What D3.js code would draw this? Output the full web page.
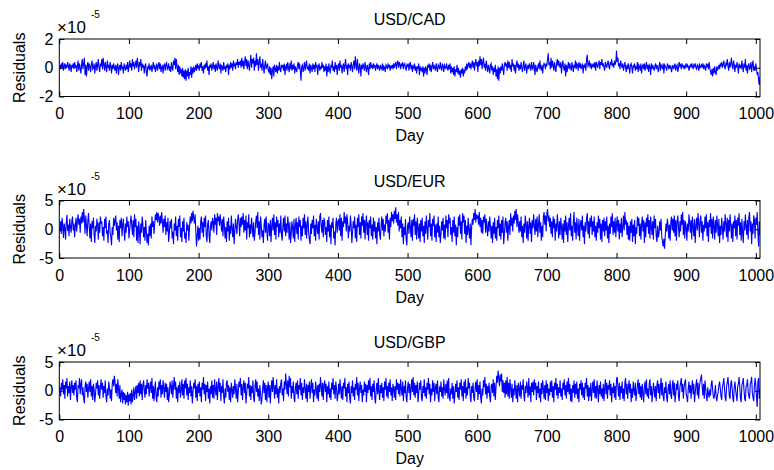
<!DOCTYPE html>
<html>
<head>
<meta charset="utf-8">
<script src="https://cdn.jsdelivr.net/npm/d3@7"></script>
<style>
  body { margin: 0; background: #fff; }
  text { font-family: "Liberation Sans", Arial, Helvetica, sans-serif; fill: #000; }
</style>
</head>
<body>
<script>
// residuals, in units of 1e-6, one value per day
var cadResid = [
2,-1,3,0,4,-2,1,3,-1,2,0,4,1,-2,3,1,-3,2,0,3,
-1,4,0,2,-3,1,5,-2,3,0,-4,2,6,-1,3,7,-5,2,-6,1,
4,-2,3,1,-3,2,5,-1,0,3,-4,1,4,-2,2,6,0,-3,3,1,
6,-1,7,2,-2,4,1,-3,5,0,2,-2,4,1,-4,2,-1,3,0,-2,
2,-4,1,3,-5,0,2,-2,4,-1,1,-4,3,0,-2,2,-1,4,-3,1,
5,0,3,-2,6,1,4,-1,2,5,0,7,2,-3,4,1,6,-2,3,0,
2,-4,1,3,-3,-6,1,-1,3,-2,0,2,-3,1,4,-1,2,-3,0,3,
-2,1,4,-1,3,-3,0,2,-4,1,3,-2,2,4,-1,0,3,-2,1,-3,
4,0,-2,5,2,7,-1,6,1,-3,2,-5,1,-4,-1,-6,0,-7,-2,-8,
-1,-9,-2,-6,0,-8,-3,-5,1,-7,0,-4,1,-3,-1,2,-2,3,0,1,
-2,3,0,4,-2,1,-4,2,-1,3,0,5,-2,1,-5,2,0,3,-2,1,
4,-1,2,-3,3,0,-2,5,1,-1,3,-4,2,0,-2,4,-1,1,-3,2,
0,3,-5,2,-1,4,0,3,-2,5,1,3,-1,4,2,6,0,4,2,5,
0,7,1,5,-1,4,8,1,6,-1,5,2,-2,4,9,0,6,3,7,-2,
5,1,10,2,6,-2,4,8,0,3,-2,6,1,-4,2,5,-1,1,3,-2,
-3,1,-5,0,-8,-2,1,-6,2,-1,-3,2,-4,1,-2,4,-1,-3,2,0,
2,-2,3,-5,1,2,-2,4,0,-3,3,-1,5,-2,2,-1,3,-4,1,-1,
-3,2,4,-1,3,-2,-9,1,2,-3,0,4,-2,2,5,-1,1,-2,3,-4,
2,0,-3,3,-1,2,-3,4,0,2,-5,1,3,-2,1,-1,4,0,2,-3,
1,-2,3,-6,1,-3,3,-1,-4,2,0,5,-2,1,-3,4,-1,2,-5,1,
3,-2,5,0,2,-4,1,3,-3,2,6,-1,2,-5,3,0,2,-2,4,1,
-3,2,5,-1,8,2,-2,6,0,-4,3,1,-6,2,-1,3,1,-2,4,0,
-3,2,0,-5,3,-1,4,0,2,-1,3,0,2,-2,1,3,-1,2,0,-2,
2,0,-1,3,-2,1,0,-3,2,1,-1,3,0,2,-2,1,0,2,-1,3,
0,2,4,-1,3,5,0,4,2,-1,3,1,4,-1,2,3,0,-2,2,1,
3,-2,2,4,-1,2,-3,1,0,3,-2,1,-4,1,-1,3,-5,1,-2,0,
-3,1,-6,0,-4,1,-1,-5,2,0,3,-2,2,-3,1,4,-1,2,0,-2,
3,0,-3,2,1,-1,4,0,-2,3,1,-3,2,1,-1,3,0,-2,2,-1,
3,-4,1,-3,0,-5,1,-6,-1,-3,2,-4,0,-5,-2,-7,-1,-4,0,-6,
-2,-3,1,-2,3,-1,2,4,0,3,-1,2,5,0,4,-2,3,6,1,4,
-3,5,1,8,2,6,-1,4,7,0,3,-2,5,1,-3,2,0,-4,2,3,
-2,1,-5,0,-3,2,-6,-1,-8,1,-9,0,-4,1,-2,3,-1,-5,2,4,
1,3,-2,5,0,4,-1,2,-3,6,1,3,-2,2,-4,2,5,0,3,-2,
2,-1,4,0,-3,2,5,-2,1,3,-4,0,2,-1,3,1,-2,4,0,-1,
4,1,-5,2,-1,-3,1,3,-1,5,0,-2,2,-4,1,3,2,-1,3,1,
6,10,2,4,-1,7,0,5,2,-2,4,0,-3,3,6,1,5,2,0,4,
-4,2,5,0,-2,3,-6,2,-3,1,4,-1,3,0,-2,4,1,-3,2,0,
5,-1,3,2,-2,4,0,3,-1,1,3,-4,2,0,3,-2,6,9,1,2,
5,0,3,-1,2,1,3,0,4,-2,4,2,0,3,5,-1,4,2,6,1,
3,0,-2,4,2,0,3,5,1,-1,4,2,6,1,3,0,5,2,4,12,
4,7,1,3,-1,5,2,0,3,-2,1,4,0,-3,2,-1,3,0,-4,2,
3,0,-4,2,0,3,-2,1,-1,4,-3,2,1,-2,3,-4,1,2,-1,3,
-2,1,4,-1,2,-3,2,1,-5,3,-1,2,0,-2,1,3,-1,2,0,-3,
1,4,-2,2,1,-1,3,-4,2,1,0,-2,3,1,-1,2,0,1,-3,0,
2,-1,1,3,-2,1,2,-3,0,4,1,2,-1,3,1,0,2,-1,1,3,
0,2,1,-2,1,2,0,3,1,-1,2,1,3,0,-1,2,1,-2,3,0,
1,2,0,3,-1,2,0,-2,3,1,2,-1,4,0,-3,-5,-1,-6,0,-4,
1,-3,-5,1,-2,0,2,-1,3,1,4,0,2,5,1,-1,3,2,6,1,
-2,4,0,3,7,1,-1,5,2,-3,2,0,4,1,-4,3,0,2,-1,5,
1,-3,3,0,6,-2,2,-4,1,3,-1,0,4,-3,2,5,-2,1,-2,3,
-1,-5,-3,-9,-12,-6
];

var eurResid = [
-4,14,-8,20,6,-15,10,2,-18,12,25,-3,8,-12,18,4,-6,15,22,-2,
10,-14,5,20,-4,14,26,8,18,-6,22,10,30,12,35,18,-8,24,6,-12,
16,28,4,-16,10,-22,14,2,20,-10,-24,6,-4,18,8,-18,12,-6,22,10,
14,-12,4,-20,18,2,22,-8,-2,-24,10,16,-6,-14,-28,4,-10,20,6,14,
24,-2,12,-18,6,-22,16,2,20,-12,8,18,-4,-20,10,-6,22,4,14,-16,
-2,12,24,6,-10,16,-14,26,4,18,-20,6,-24,14,-2,-26,10,-6,22,8,
-14,4,-20,16,-4,-24,-8,-28,6,-12,10,-16,22,4,14,-8,10,26,16,30,
12,28,20,6,24,10,30,14,-6,18,4,24,-10,12,-4,20,-22,-6,14,2,
18,-16,-4,-26,10,-2,22,-12,6,-20,18,4,24,-14,2,-22,14,-4,20,-16,
-6,-24,12,-2,8,-20,4,22,10,28,14,32,20,10,26,-4,-30,-12,6,-20,
2,-18,14,22,-6,12,-14,20,4,24,-12,-22,8,16,-10,-24,4,14,-2,20,
12,-6,26,8,20,-10,28,14,22,6,26,12,-4,18,-12,22,6,-16,4,-22,
14,-4,20,-20,6,-8,24,2,-14,10,-26,-4,18,4,-8,16,26,10,-12,20,
4,22,8,28,-6,16,-2,24,-18,12,2,26,-14,8,-8,20,4,-14,12,-20,
-6,14,24,2,30,-10,14,-18,22,6,-14,-2,-24,8,18,-6,22,-4,-20,10,
8,-12,16,-22,6,20,-2,26,-10,12,-18,22,4,16,-14,10,-6,24,-10,-20,
6,20,-4,24,-12,10,-6,22,8,-18,12,-24,-8,14,2,-16,18,-22,6,20,
-8,12,-18,22,4,16,-20,6,-12,20,2,26,-10,14,-16,8,22,-6,-18,-26,
10,-8,16,2,24,-12,8,-20,18,4,-8,14,-18,22,28,6,-6,16,-14,20,
14,-10,4,-22,16,-4,22,-14,8,-26,12,2,20,-16,-4,-28,10,20,-6,14,
16,-2,26,-12,20,-20,14,4,30,10,22,-4,26,12,-16,6,-4,24,8,-24,
-6,14,2,22,-16,8,-22,20,4,26,-10,12,-16,22,6,28,-6,16,-18,12,
24,-10,12,-20,16,2,22,-12,8,-18,20,-4,14,-16,4,-26,12,-4,20,-10,
-18,6,22,-2,18,-12,8,-4,24,10,28,-6,16,-18,20,4,30,14,26,10,
32,18,38,12,26,6,30,-4,16,2,22,-14,10,-26,4,-10,18,-18,-28,6,
12,-8,22,4,-14,16,-20,18,6,26,-10,14,-18,20,2,-16,10,-22,16,-4,
20,-12,6,-24,14,-8,24,2,-18,16,4,28,-12,10,-20,18,6,24,-14,8,
-22,10,-6,22,-14,6,-24,-8,14,-2,20,-16,8,-18,24,2,16,-14,26,10,
20,-10,4,-22,16,-6,22,-12,8,-28,4,-14,22,6,26,-8,14,-18,28,12,
24,-8,16,-24,6,-10,20,-2,-16,10,-28,4,18,8,28,16,35,12,26,18,
24,8,30,4,20,-6,16,-8,22,12,26,-6,18,2,-12,14,-4,22,6,-16,
6,-24,12,-8,20,-16,4,-20,16,2,24,-12,10,-18,16,-6,22,-26,-8,12,
20,-6,14,-20,4,16,-10,28,6,20,-4,24,10,32,16,35,4,26,10,-6,
14,-4,22,-14,6,-24,10,-6,24,8,-16,14,-20,6,20,-8,12,-22,16,2,
26,6,-10,18,-4,22,-14,8,26,-6,12,-20,6,-14,22,30,8,24,-4,28,
35,14,24,4,20,-8,14,-14,22,2,18,-20,10,-4,26,8,-16,14,-10,20,
4,-18,10,-24,16,-4,24,-10,12,-22,6,20,-2,28,-12,6,-20,14,30,-6,
12,-18,20,4,-12,18,-20,8,16,-2,24,-14,6,-26,12,-4,20,28,-8,14,
-16,20,4,24,-10,14,-4,22,-14,6,-20,12,-6,24,2,18,-18,10,-22,16,
-4,20,-12,14,-2,22,-16,6,-24,10,-8,22,4,28,-10,14,-6,20,-14,8,
22,-4,16,-18,10,-6,20,-14,4,24,-2,30,8,16,-10,12,-18,6,-20,14,
-6,18,-22,8,-12,16,-26,4,-8,22,6,20,-12,10,-18,8,22,-4,16,-24,
12,-14,20,4,26,-8,16,-16,22,6,-10,14,-18,24,2,18,-12,-22,6,-14,
-8,14,-2,18,-14,-22,-30,-16,-34,-12,10,-4,18,6,-16,8,-20,14,22,-2,
18,-6,24,-12,16,-20,12,24,2,-14,14,-4,26,8,30,-10,16,-16,14,4,
-20,10,-4,26,12,-6,16,-18,22,4,-12,18,-24,6,20,-2,28,10,-14,16,
24,-6,14,-20,8,-4,22,2,26,-12,12,-22,16,4,28,-8,18,-16,22,6,
-18,16,-6,24,8,-12,18,-24,6,-10,20,2,-18,14,-4,26,10,-14,20,-22,
16,-4,26,8,-16,10,-22,14,2,24,-12,16,-18,20,6,28,-10,12,-20,18,
-6,-24,14,-2,26,6,-10,16,-18,22,30,-4,14,-26,10,-8,24,16,-16,20,
8,30,-6,-30,14,-10
];

var gbpResid = [
6,-10,14,2,20,-6,10,-14,16,4,22,-10,8,-4,16,-16,6,18,-4,10,
-8,14,2,18,-12,-20,10,4,22,-6,12,20,-8,6,-14,-22,8,16,-2,12,
-12,4,16,-2,20,-10,8,-16,12,2,-20,-6,14,4,18,-8,10,-14,6,20,
2,14,-12,8,-4,18,-10,-20,4,-8,16,6,-14,2,-18,12,20,8,26,16,
-4,12,-10,20,4,-14,10,-20,-6,2,-22,-2,-16,-4,-24,-8,-20,-2,-26,-6,
-18,-4,-24,2,-20,-8,6,-16,-2,8,-14,10,-4,14,-10,18,-6,12,-16,8,
18,2,-12,10,-6,20,4,14,-10,6,16,-4,22,-14,8,-18,4,16,-12,-20,
6,-10,16,2,20,-12,10,-6,18,4,-12,14,-2,12,-16,6,-20,-6,16,8,
-6,18,-12,8,24,2,16,-14,6,-20,10,-4,16,-12,2,20,-8,12,-14,18,
4,22,-8,12,-16,6,-4,18,-10,8,-22,-2,14,4,20,-12,8,-18,12,-4,
16,-10,6,-20,14,2,24,-6,12,-18,10,-2,16,-14,4,-22,8,-6,18,-12,
10,-14,20,2,-8,16,-16,6,22,-2,14,-18,8,-4,20,-10,-22,4,-12,14,
18,-2,10,-16,6,-20,14,2,-12,8,-6,20,4,-14,12,-20,-2,16,6,22,
-8,12,-16,6,18,-4,14,-22,-6,12,4,24,-10,10,-16,8,-4,18,-12,-20,
8,20,-2,16,-10,4,-18,10,-6,-24,-12,4,18,-4,14,-16,10,-20,6,16,
-12,10,-22,4,18,-2,24,6,-14,10,-6,20,-12,4,-22,8,-4,14,20,-8,
4,-18,16,2,30,12,-6,18,-10,26,6,22,-14,8,-4,16,-12,-20,6,14,
-6,18,-14,10,2,22,-8,14,-16,6,-4,20,4,-14,12,-20,10,-2,16,-14,
6,20,-4,14,-20,2,-8,16,4,-14,10,-18,12,-2,24,8,-10,14,-16,10,
18,-2,12,-20,8,-6,16,-12,4,-16,14,2,22,-6,10,-14,16,4,-18,-8,
12,-6,20,2,-14,8,-16,14,4,22,-10,6,-20,12,-4,16,-14,-22,8,-4,
18,-10,6,-16,12,2,24,-8,14,-18,4,16,-4,10,-20,2,-8,16,-2,12,
-20,10,-4,18,2,22,-10,8,-16,12,-2,18,-14,-22,4,14,-6,22,-2,-16,
10,-4,14,-12,6,-18,16,2,22,-10,8,-14,14,-2,20,-8,6,-18,12,4,
-12,8,-16,20,2,14,-6,12,-10,20,4,-8,16,-18,8,-4,18,-12,-20,6,
16,-4,12,-16,4,20,-2,24,-8,14,-12,10,-4,16,-20,-6,14,2,18,-12,
-18,8,-4,20,-10,6,-14,14,2,22,-6,12,-20,4,-8,18,-2,14,-18,6,
12,-6,18,-12,-20,8,-2,16,-10,6,-14,20,4,-8,12,-4,18,-14,22,-10,
-18,4,-6,14,-14,8,-22,-6,12,-2,18,-12,6,-16,14,2,20,-10,8,-18,
16,-4,20,-14,6,-8,22,4,14,-10,-20,8,-4,14,-12,-18,6,16,-2,20,
-16,10,-6,16,-12,-22,4,-8,18,6,24,-6,12,-14,8,-4,14,-10,-20,8,
12,-4,20,-10,14,-16,6,26,14,35,22,8,28,16,30,-2,18,-4,14,-12,
18,-6,24,-10,14,-14,20,4,-12,12,-20,4,-8,18,2,-14,10,-20,14,4,
-10,16,-14,10,2,20,-8,-18,8,-4,16,6,-12,22,-8,8,-20,14,-2,16,
-8,20,2,14,-16,8,-4,16,-12,4,-20,14,-6,18,4,-14,10,-16,18,-4,
12,-18,4,-8,16,-2,18,-12,8,-20,14,2,22,-8,12,-14,6,-4,18,-10,
4,-16,14,2,20,-8,10,-14,16,-2,22,-6,12,-18,4,-20,10,-4,18,-12,
12,-6,16,-14,4,-20,12,2,18,-8,14,-12,6,-16,14,4,22,-10,10,-18,
6,-10,14,-18,2,16,-4,20,-12,8,-14,18,2,-20,10,-6,16,-10,4,-14,
12,-18,4,20,-6,14,-14,10,2,18,-8,12,-20,6,-4,14,-12,8,-16,20,
24,6,-10,14,-16,8,-4,16,-14,4,-18,14,22,-6,12,-14,6,18,-4,12,
-20,4,-12,16,2,-8,14,-18,-4,10,20,-6,14,-12,8,-16,12,-4,-20,6,
16,-6,20,-10,4,-14,12,20,-8,8,-20,-4,14,2,-12,8,-18,10,18,-4,
12,-14,6,22,-8,14,-10,-18,6,-4,16,-12,-20,4,12,-6,18,-8,-14,10,
18,-8,14,-20,-6,12,2,18,-10,-18,6,14,22,-2,12,-14,6,14,20,-6,
-12,-20,4,16,-4,10,-14,6,18,-6,12,-20,-4,10,20,-8,14,-14,6,16,
22,28,6,-8,12,-14,18,4,-10,-18,6,-6,-12,2,-8,12,18,2,-10,-14,
-4,10,-10,-18,-8,-2,10,16,4,-10,-16,6,12,22,4,-12,-18,8,14,24,
8,-10,-14,12,18,4,-12,-20,6,16,2,-8,-18,8,12,24,6,-14,-20,10,
14,22,2,-14,-18,8,10,20,-2,-10,-14,12,16,24,-4,-12,-18,8,22,10,
-12,-28,16,22,-14,4
];

var pairNames = ["USD/CAD", "USD/EUR", "USD/GBP"];
var yLimits = [2, 5, 5];               // axis limits, x 1e-5
var dayTicks = [0, 100, 200, 300, 400, 500, 600, 700, 800, 900, 1000];
var dayMax = 1006;

var width = 774,
    height = 470,
    left = 59.3,
    right = 760,
    panelTops = [39, 200.5, 362],
    panelH = 57.5;

var series = [cadResid, eurResid, gbpResid];

var svg = d3.select("body").append("svg")
    .attr("width", width)
    .attr("height", height);

svg.append("rect")
    .attr("width", width)
    .attr("height", height)
    .attr("fill", "#fff");

var x = d3.scaleLinear()
    .domain([0, dayMax])
    .range([left, right]);

series.forEach(function(vals, k) {
    var top = panelTops[k],
        bottom = top + panelH,
        lim = yLimits[k] * 1e-5;

    var y = d3.scaleLinear()
        .domain([-lim, lim])
        .range([bottom, top]);

    var g = svg.append("g");

    g.append("clipPath")
        .attr("id", "clip" + k)
      .append("rect")
        .attr("x", left)
        .attr("y", top)
        .attr("width", right - left)
        .attr("height", panelH);

    // the residual line
    var line = d3.line()
        .x(function(d, i) { return x(i + 1); })
        .y(function(d) { return y(d * 1e-6); });

    g.append("path")
        .datum(vals)
        .attr("clip-path", "url(#clip" + k + ")")
        .attr("d", line)
        .attr("fill", "none")
        .attr("stroke", "#0000ff")
        .attr("stroke-width", 1.1);

    // inward ticks on all four sides, like a boxed matlab axes
    var yTicks = [-lim, 0, lim];
    var fmtY = function(d) { return String(Math.round(d / 1e-5)); };

    g.append("g")
        .attr("transform", "translate(0," + bottom + ")")
        .call(d3.axisBottom(x).tickValues(dayTicks).tickSize(-5).tickPadding(11.5)
            .tickFormat(d3.format("d")));
    g.append("g")
        .attr("transform", "translate(0," + top + ")")
        .call(d3.axisTop(x).tickValues(dayTicks).tickSize(-5).tickFormat(""));
    g.append("g")
        .attr("transform", "translate(" + left + ",0)")
        .call(d3.axisLeft(y).tickValues(yTicks).tickSize(-5).tickPadding(6).tickFormat(fmtY));
    g.append("g")
        .attr("transform", "translate(" + right + ",0)")
        .call(d3.axisRight(y).tickValues(yTicks).tickSize(-5).tickFormat(""));

    g.selectAll(".domain").remove();
    g.selectAll(".tick line").attr("stroke", "#000");
    g.selectAll(".tick text")
        .attr("font-family", "Liberation Sans, Arial, sans-serif")
        .attr("font-size", 16)
        .attr("fill", "#000");

    // axes box
    g.append("rect")
        .attr("x", left)
        .attr("y", top)
        .attr("width", right - left)
        .attr("height", panelH)
        .attr("fill", "none")
        .attr("stroke", "#000")
        .attr("stroke-width", 1);

    // title
    g.append("text")
        .attr("x", (left + right) / 2)
        .attr("y", top - 14)
        .attr("text-anchor", "middle")
        .attr("font-size", 16)
        .text(pairNames[k]);

    // x label
    g.append("text")
        .attr("x", (left + right) / 2)
        .attr("y", bottom + 44.5)
        .attr("text-anchor", "middle")
        .attr("font-size", 16)
        .text("Day");

    // y label
    g.append("text")
        .attr("transform", "translate(25," + (top + panelH / 2) + ") rotate(-90)")
        .attr("text-anchor", "middle")
        .attr("font-size", 16)
        .text("Residuals");

    // exponent marker
    g.append("text")
        .attr("x", 57)
        .attr("y", top - 6)
        .attr("font-size", 17)
        .text("\u00d710");
    g.append("text")
        .attr("x", 91)
        .attr("y", top - 21)
        .attr("font-size", 10)
        .text("-5");
});
</script>
</body>
</html>
